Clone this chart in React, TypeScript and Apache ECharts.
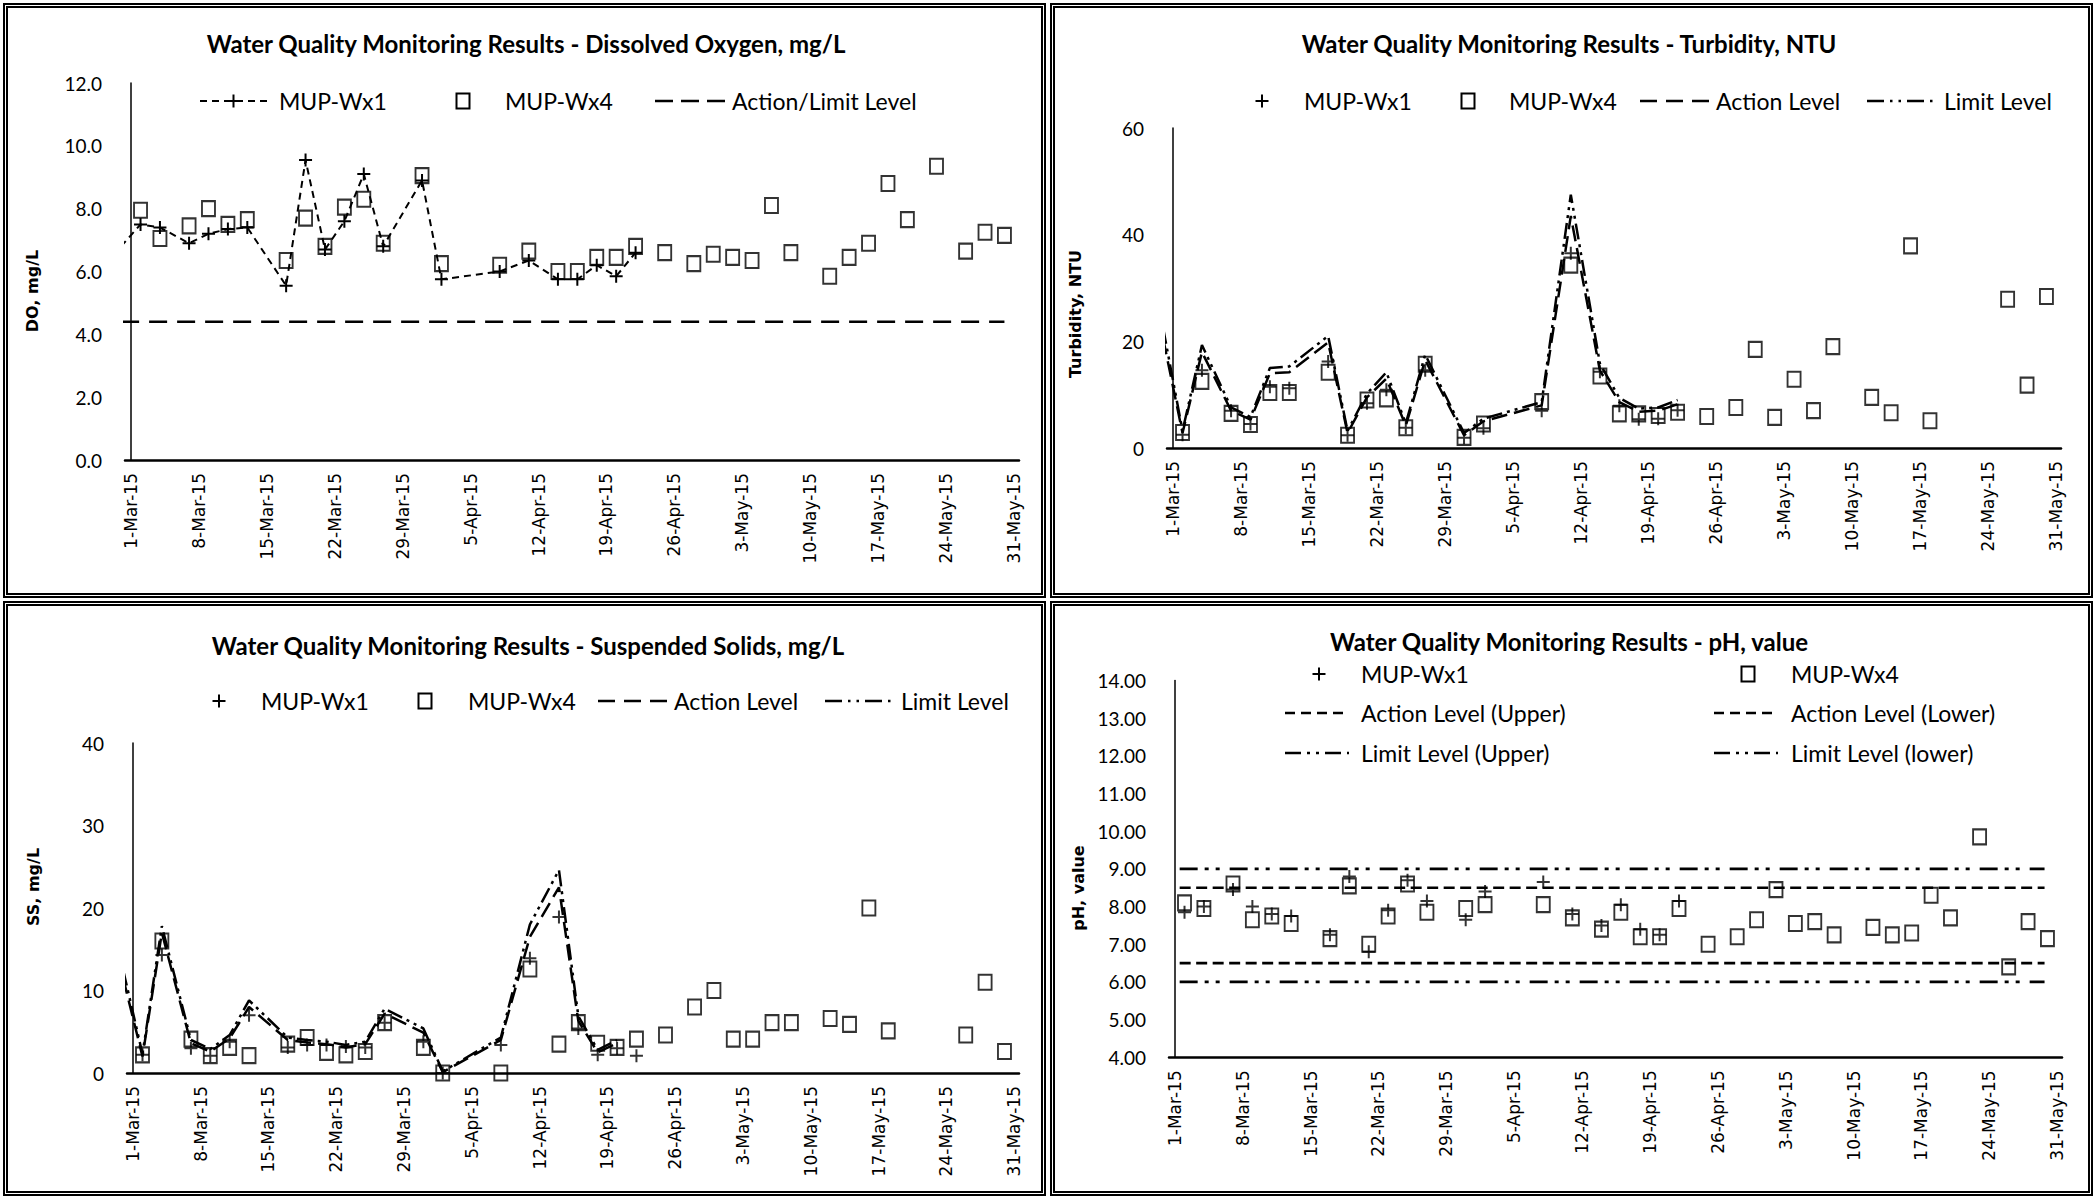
import React, { useEffect, useRef } from 'react';
import * as echarts from 'echarts';

// ---------- DATA ----------
const labelDays = [0, 7, 14, 21, 28, 35, 42, 49, 56, 63, 70, 77, 84, 91];
const wx1Days = [1, 3, 6, 8, 10, 12, 16, 18, 20, 22, 24, 26, 30, 32, 38, 41, 44, 46, 48, 50, 52];
const wx4Days = [1, 3, 6, 8, 10, 12, 16, 18, 20, 22, 24, 26, 30, 32, 38, 41, 44, 46, 48, 50, 52, 55, 58, 60, 62, 64, 66, 68, 72, 74, 76, 78, 80, 83, 86, 88, 90];

// Dissolved oxygen
const doWx1Days = [-1, 1, 3, 6, 8, 10, 12, 16, 18, 20, 22, 24, 26, 30, 32, 38, 41, 44, 46, 48, 50, 52];
const doWx1 = [6.8, 7.5, 7.4, 6.9, 7.2, 7.35, 7.4, 5.55, 9.55, 6.7, 7.6, 9.1, 6.8, 8.9, 5.75, 6.0, 6.35, 5.75, 5.75, 6.2, 5.85, 6.6];
const doWx4 = [7.95, 7.05, 7.45, 8.0, 7.5, 7.65, 6.35, 7.7, 6.8, 8.05, 8.3, 6.9, 9.05, 6.25, 6.2, 6.65, 6.0, 6.0, 6.45, 6.45, 6.8, 6.6, 6.25, 6.55, 6.45, 6.35, 8.1, 6.6, 5.85, 6.45, 6.9, 8.8, 7.65, 9.35, 6.65, 7.25, 7.15];
const doLevelDays = [-1, 90];
const doLevel = [4.4, 4.4];

// Turbidity
const turbWx1 = [2.5, 14.6, 7.0, 4.5, 11.5, 11.2, 16.2, 2.4, 8.4, 10.9, 3.8, 14.6, 1.9, 3.7, 7.0, 36.5, 14.3, 7.9, 5.4, 5.5, 7.1];
const turbWx4 = [2.9, 12.5, 6.5, 4.4, 10.4, 10.4, 14.2, 2.4, 9.0, 9.2, 3.8, 15.7, 2.0, 4.5, 8.7, 34.3, 13.5, 6.4, 6.4, 6.1, 6.7, 5.9, 7.6, 18.5, 5.75, 12.9, 7.0, 19.0, 9.5, 6.6, 37.9, 5.1, null, null, 27.9, 11.8, 28.4];
const turbLevelDays = [-1, 1, 3, 6, 8, 10, 12, 16, 18, 20, 22, 24, 26, 30, 32, 38, 41, 44, 46, 48, 50, 52];
const turbAction = [20.5, 2.8, 18.0, 7.0, 5.3, 14.0, 14.2, 19.8, 2.8, 9.5, 13.0, 4.2, 16.5, 2.4, 5.0, 8.0, 43.5, 14.5, 8.6, 6.8, 7.0, 8.2];
const turbLimit = [22.5, 3.2, 19.3, 7.6, 5.8, 15.0, 15.3, 21.0, 3.2, 10.2, 14.2, 4.6, 17.5, 2.8, 5.5, 8.6, 47.5, 15.8, 9.4, 7.4, 7.6, 9.0];

// Suspended solids
const ssWx1 = [2.2, 14.3, 3.0, 2.1, 3.8, 7.0, 3.1, 3.4, 3.4, 3.2, 3.1, 6.1, 3.8, 0, 3.4, 13.9, 18.9, 5.4, 2.2, 3.0, 2.1];
const ssWx4 = [2.2, 16.0, 4.1, 2.1, 3.1, 2.1, 3.5, 4.3, 2.5, 2.2, 2.6, 6.1, 3.1, 0, 0, 12.6, 3.5, 6.1, 3.6, 3.1, 4.1, 4.6, 8.0, 10.0, 4.1, 4.1, 6.1, 6.1, 6.6, 5.9, 20.0, 5.1, null, null, 4.6, 11.0, 2.6];
const ssLevelDays = [-1, 1, 3, 6, 8, 10, 12, 16, 18, 20, 22, 24, 26, 30, 32, 38, 41, 44, 46, 48, 50];
const ssAction = [11.5, 2.0, 17.0, 3.6, 2.6, 4.2, 8.0, 4.0, 3.7, 3.5, 3.1, 3.5, 7.2, 4.9, 0.1, 4.0, 16.5, 22.5, 6.3, 2.5, 3.6];
const ssLimit = [12.5, 2.3, 17.8, 4.0, 2.9, 4.6, 8.8, 4.3, 4.0, 3.8, 3.4, 3.8, 7.8, 5.4, 0.2, 4.3, 18.0, 24.6, 6.9, 2.8, 4.0];

// pH
const phWx1 = [7.85, 8.0, 8.45, 8.0, 7.8, 7.75, 7.25, 8.8, 6.8, 7.9, 8.7, 8.15, 7.65, 8.4, 8.65, 7.8, 7.5, 8.05, 7.4, 7.25, 8.15];
const phWx4 = [8.1, 7.95, 8.6, 7.65, 7.75, 7.55, 7.15, 8.55, 7.0, 7.75, 8.6, 7.85, 7.95, 8.05, 8.05, 7.7, 7.4, 7.85, 7.2, 7.2, 7.95, 7.0, 7.2, 7.65, 8.45, 7.55, 7.6, 7.25, 7.45, 7.25, 7.3, 8.3, 7.7, 9.85, 6.4, 7.6, 7.15];
const phLevelDays = [0.5, 89.7];
const phActionUpper = [8.5, 8.5];
const phActionLower = [6.5, 6.5];
const phLimitUpper = [9, 9];
const phLimitLower = [6, 6];

// ---------- HELPERS ----------
const PLUS = 'path://M6,0L6,12M0,6L12,6';
const BW = 5;
const LEGEND_FONT = '23px Lato';
const TITLE_FONT = 'bold 24px Lato';
const NAME_FONT = 'bold 16px "DejaVu Sans"';

function pts(xs: number[], ys: (number | null)[]) {
  return xs.map((x, i) => [x, ys[i]]).filter((p) => p[1] !== null && p[1] !== undefined);
}

function dayLabel(v: number) {
  let d = Math.round(v) + 1;
  let m = 'Mar';
  if (d > 31) {
    d -= 31;
    m = 'Apr';
    if (d > 30) {
      d -= 30;
      m = 'May';
    }
  }
  return `${d}-${m}-15`;
}

const ACTION_DASH = [16, 7];
const LIMIT_DASH = [16, 5, 3, 5, 3, 5];

type Box = { left: number; right: number; top: number; bottom: number };

function baseOption(ox: number, oy: number, g: Box, ymin: number, ymax: number, interval: number, dec: number) {
  return {
    animation: false,
    grid: { left: g.left - ox, top: g.top - oy, width: g.right - g.left, height: g.bottom - g.top },
    xAxis: {
      type: 'value',
      min: -0.6,
      max: 91.5,
      axisLine: { show: true, onZero: false, lineStyle: { color: '#000', width: 2.5 } },
      axisTick: { show: false },
      splitLine: { show: false },
      axisLabel: {
        show: true,
        customValues: labelDays,
        rotate: 90,
        margin: 13,
        formatter: (v: number) => dayLabel(v),
        fontFamily: 'DejaVu Sans',
        fontSize: 17,
        color: '#000',
      },
    },
    yAxis: {
      type: 'value',
      min: ymin,
      max: ymax,
      interval,
      axisLine: { show: true, lineStyle: { color: '#000', width: 1.5 } },
      axisTick: { show: false },
      splitLine: { show: false },
      axisLabel: {
        formatter: (v: number) => v.toFixed(dec),
        fontFamily: 'Lato',
        fontSize: 19,
        color: '#000',
        margin: 23,
      },
    },
  };
}

function plusSeries(name: string, data: any[], withLine: boolean, dash?: number[]) {
  return {
    type: withLine ? 'line' : 'scatter',
    name,
    data,
    symbol: PLUS,
    symbolSize: 13,
    showSymbol: true,
    silent: true,
    emphasis: { disabled: true },
    itemStyle: { color: 'transparent', borderColor: '#000', borderWidth: 2 },
    lineStyle: withLine ? { color: '#000', width: 2, type: dash } : undefined,
    z: 4,
  };
}

function squareSeries(name: string, data: any[]) {
  return {
    type: 'scatter',
    name,
    data,
    symbol: 'rect',
    symbolSize: [13, 15],
    silent: true,
    emphasis: { disabled: true },
    itemStyle: { color: 'transparent', borderColor: '#000', borderWidth: 2 },
    z: 5,
  };
}

function levelSeries(name: string, data: any[], dash: number[], width: number) {
  return {
    type: 'line',
    name,
    data,
    symbol: 'none',
    silent: true,
    emphasis: { disabled: true },
    lineStyle: { color: '#000', width, type: dash },
    itemStyle: { color: '#000' },
    z: 2,
  };
}

type LegendItem =
  | { kind: 'plus'; cx: number; tx: number; text: string }
  | { kind: 'square'; cx: number; tx: number; text: string }
  | { kind: 'line'; x1: number; x2: number; dash: number[]; lw: number; plus?: boolean; tx: number; text: string };

function legendGraphics(ox: number, oy: number, y: number, items: LegendItem[]) {
  const out: any[] = [];
  const yy = y - oy;
  items.forEach((it) => {
    if (it.kind === 'plus' || (it.kind === 'line' && it.plus)) {
      const cx = (it.kind === 'plus' ? it.cx : (it.x1 + it.x2) / 2) - ox;
      out.push({ type: 'line', silent: true, shape: { x1: cx - 6.5, y1: yy, x2: cx + 6.5, y2: yy }, style: { stroke: '#000', lineWidth: 2 } });
      out.push({ type: 'line', silent: true, shape: { x1: cx, y1: yy - 6.5, x2: cx, y2: yy + 6.5 }, style: { stroke: '#000', lineWidth: 2 } });
    }
    if (it.kind === 'square') {
      const cx = it.cx - ox;
      out.push({ type: 'rect', silent: true, shape: { x: cx - 6.5, y: yy - 7.5, width: 13, height: 15 }, style: { fill: 'none', stroke: '#000', lineWidth: 2 } });
    }
    if (it.kind === 'line') {
      out.push({
        type: 'line',
        silent: true,
        shape: { x1: it.x1 - ox, y1: yy, x2: it.x2 - ox, y2: yy },
        style: { stroke: '#000', lineWidth: it.lw, lineDash: it.dash },
      });
    }
    out.push({
      type: 'text',
      silent: true,
      x: it.tx - ox,
      y: yy,
      style: { text: it.text, font: LEGEND_FONT, fill: '#000', textAlign: 'left', textVerticalAlign: 'middle' },
    });
  });
  return out;
}

function titleGraphic(ox: number, oy: number, cx: number, cy: number, text: string) {
  return {
    type: 'text',
    silent: true,
    x: cx - ox,
    y: cy - oy,
    style: { text, font: TITLE_FONT, fill: '#000', textAlign: 'center', textVerticalAlign: 'middle' },
  };
}

function axisNameGraphic(ox: number, oy: number, cx: number, cy: number, text: string) {
  return {
    type: 'text',
    silent: true,
    x: cx - ox,
    y: cy - oy,
    rotation: Math.PI / 2,
    style: { text, font: NAME_FONT, fill: '#000', textAlign: 'center', textVerticalAlign: 'middle' },
  };
}

// ---------- CHART BUILDERS ----------
function buildDO(ox: number, oy: number) {
  const opt: any = baseOption(ox, oy, { left: 125, right: 1019, top: 83, bottom: 460 }, 0, 12, 2, 1);
  opt.series = [
    levelSeries('Action/Limit Level', pts(doLevelDays, doLevel), [18, 10], 2.7),
    plusSeries('MUP-Wx1', pts(doWx1Days, doWx1), true, [7, 5]),
    squareSeries('MUP-Wx4', pts(wx4Days, doWx4)),
  ];
  opt.graphic = [
    titleGraphic(ox, oy, 526, 43, 'Water Quality Monitoring Results - Dissolved Oxygen, mg/L'),
    axisNameGraphic(ox, oy, 32, 291, 'DO, mg/L'),
    ...legendGraphics(ox, oy, 101, [
      { kind: 'line', x1: 200, x2: 267, dash: [7, 5], lw: 2, plus: true, tx: 279, text: 'MUP-Wx1' },
      { kind: 'square', cx: 463, tx: 505, text: 'MUP-Wx4' },
      { kind: 'line', x1: 655, x2: 725, dash: [18, 8], lw: 2.7, tx: 732, text: 'Action/Limit Level' },
    ]),
  ];
  return opt;
}

function buildTurb(ox: number, oy: number) {
  const opt: any = baseOption(ox, oy, { left: 1167, right: 2061, top: 128, bottom: 448 }, 0, 60, 20, 0);
  opt.series = [
    levelSeries('Action Level', pts(turbLevelDays, turbAction), ACTION_DASH, 2.5),
    levelSeries('Limit Level', pts(turbLevelDays, turbLimit), LIMIT_DASH, 2.5),
    plusSeries('MUP-Wx1', pts(wx1Days, turbWx1), false),
    squareSeries('MUP-Wx4', pts(wx4Days, turbWx4)),
  ];
  opt.graphic = [
    titleGraphic(ox, oy, 1569, 43, 'Water Quality Monitoring Results - Turbidity, NTU'),
    axisNameGraphic(ox, oy, 1075, 314, 'Turbidity, NTU'),
    ...legendGraphics(ox, oy, 101, [
      { kind: 'plus', cx: 1262, tx: 1304, text: 'MUP-Wx1' },
      { kind: 'square', cx: 1468, tx: 1509, text: 'MUP-Wx4' },
      { kind: 'line', x1: 1640, x2: 1710, dash: [17, 9], lw: 2.5, tx: 1716, text: 'Action Level' },
      { kind: 'line', x1: 1867, x2: 1937, dash: [17, 6, 2.5, 6, 2.5, 6], lw: 2.5, tx: 1944, text: 'Limit Level' },
    ]),
  ];
  return opt;
}

function buildSS(ox: number, oy: number) {
  const opt: any = baseOption(ox, oy, { left: 127, right: 1019, top: 743, bottom: 1073 }, 0, 40, 10, 0);
  opt.series = [
    levelSeries('Action Level', pts(ssLevelDays, ssAction), ACTION_DASH, 2.5),
    levelSeries('Limit Level', pts(ssLevelDays, ssLimit), LIMIT_DASH, 2.5),
    plusSeries('MUP-Wx1', pts(wx1Days, ssWx1), false),
    squareSeries('MUP-Wx4', pts(wx4Days, ssWx4)),
  ];
  opt.graphic = [
    titleGraphic(ox, oy, 528, 645, 'Water Quality Monitoring Results - Suspended Solids, mg/L'),
    axisNameGraphic(ox, oy, 33, 887, 'SS, mg/L'),
    ...legendGraphics(ox, oy, 701, [
      { kind: 'plus', cx: 219, tx: 261, text: 'MUP-Wx1' },
      { kind: 'square', cx: 425, tx: 468, text: 'MUP-Wx4' },
      { kind: 'line', x1: 598, x2: 668, dash: [17, 9], lw: 2.5, tx: 674, text: 'Action Level' },
      { kind: 'line', x1: 825, x2: 895, dash: [17, 6, 2.5, 6, 2.5, 6], lw: 2.5, tx: 901, text: 'Limit Level' },
    ]),
  ];
  return opt;
}

function buildPH(ox: number, oy: number) {
  const opt: any = baseOption(ox, oy, { left: 1169, right: 2062, top: 680.5, bottom: 1057.3 }, 4, 14, 1, 2);
  const aDash = [11, 5.5];
  const lDash = [18, 7, 4, 7, 4, 10];
  opt.series = [
    levelSeries('Action Level (Upper)', pts(phLevelDays, phActionUpper), aDash, 2.7),
    levelSeries('Action Level (Lower)', pts(phLevelDays, phActionLower), aDash, 2.7),
    levelSeries('Limit Level (Upper)', pts(phLevelDays, phLimitUpper), lDash, 2.7),
    levelSeries('Limit Level (lower)', pts(phLevelDays, phLimitLower), lDash, 2.7),
    plusSeries('MUP-Wx1', pts(wx1Days, phWx1), false),
    squareSeries('MUP-Wx4', pts(wx4Days, phWx4)),
  ];
  opt.graphic = [
    titleGraphic(ox, oy, 1569, 641, 'Water Quality Monitoring Results - pH, value'),
    axisNameGraphic(ox, oy, 1078, 888, 'pH, value'),
    ...legendGraphics(ox, oy, 674, [
      { kind: 'plus', cx: 1319, tx: 1361, text: 'MUP-Wx1' },
      { kind: 'square', cx: 1748, tx: 1791, text: 'MUP-Wx4' },
    ]),
    ...legendGraphics(ox, oy, 713, [
      { kind: 'line', x1: 1285, x2: 1349, dash: [10, 6], lw: 2.7, tx: 1361, text: 'Action Level (Upper)' },
      { kind: 'line', x1: 1714, x2: 1778, dash: [10, 6], lw: 2.7, tx: 1791, text: 'Action Level (Lower)' },
    ]),
    ...legendGraphics(ox, oy, 753, [
      { kind: 'line', x1: 1285, x2: 1349, dash: [16, 6, 3, 6, 3, 6], lw: 2.7, tx: 1361, text: 'Limit Level (Upper)' },
      { kind: 'line', x1: 1714, x2: 1778, dash: [16, 6, 3, 6, 3, 6], lw: 2.7, tx: 1791, text: 'Limit Level (lower)' },
    ]),
  ];
  return opt;
}

// ---------- COMPONENTS ----------
type Panel = { x: number; y: number; w: number; h: number };

function ChartPanel({ panel, build }: { panel: Panel; build: (ox: number, oy: number) => any }) {
  const ref = useRef<HTMLDivElement>(null);
  useEffect(() => {
    if (!ref.current) return;
    const chart = echarts.init(ref.current, null, { renderer: 'svg' });
    chart.setOption(build(panel.x + BW, panel.y + BW));
    return () => chart.dispose();
  }, []);
  return (
    <div
      style={{
        position: 'absolute',
        left: panel.x,
        top: panel.y,
        width: panel.w,
        height: panel.h,
        border: `${BW}px double #000`,
        boxSizing: 'border-box',
        background: '#fff',
      }}
    >
      <div ref={ref} style={{ width: panel.w - 2 * BW, height: panel.h - 2 * BW }} />
    </div>
  );
}

const panels: Panel[] = [
  { x: 3, y: 3, w: 1043, h: 595 },
  { x: 1050, y: 3, w: 1043, h: 595 },
  { x: 3, y: 601, w: 1043, h: 595 },
  { x: 1050, y: 601, w: 1043, h: 595 },
];

export default function App() {
  return (
    <div style={{ position: 'fixed', left: 0, top: 0, width: 2096, height: 1197, background: '#fff', overflow: 'hidden' }}>
      <ChartPanel panel={panels[0]} build={buildDO} />
      <ChartPanel panel={panels[1]} build={buildTurb} />
      <ChartPanel panel={panels[2]} build={buildSS} />
      <ChartPanel panel={panels[3]} build={buildPH} />
    </div>
  );
}
